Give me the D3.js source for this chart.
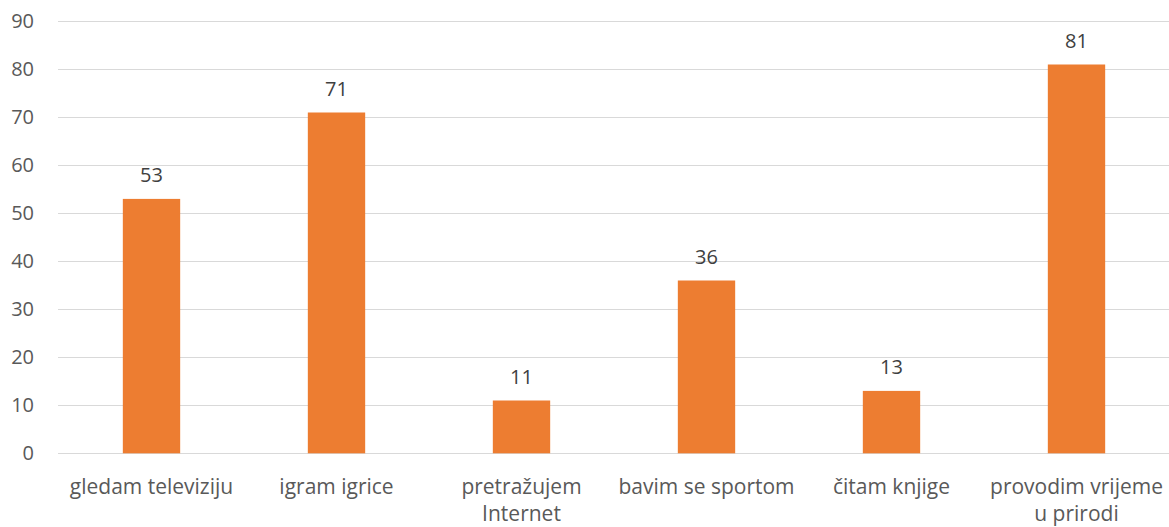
<!DOCTYPE html>
<html>
<head>
<meta charset="utf-8">
<script src="https://cdn.jsdelivr.net/npm/d3@7"></script>
<style>
  body { margin: 0; background: #fff; }
  text { font-family: "Open Sans", "Noto Sans", sans-serif; }
</style>
</head>
<body>
<script>
const categories = [
    ["gledam televiziju"],
    ["igram igrice"],
    ["pretražujem", "Internet"],
    ["bavim se sportom"],
    ["čitam knjige"],
    ["provodim vrijeme", "u prirodi"]
]
const values = [53, 71, 11, 36, 13, 81]
const yTicks = [0, 10, 20, 30, 40, 50, 60, 70, 80, 90]

var width = 1169,
    height = 527;

var svg = d3.select("body")
    .append("svg")
    .attr("width", width)
    .attr("height", height);

// zone du graphique
var plotLeft = 59, plotRight = 1169, plotTop = 21.3, plotBottom = 453.3;

var x = d3.scaleBand()
    .domain(d3.range(categories.length))
    .range([plotLeft, plotRight])
    .paddingInner(0.69)
    .paddingOuter(0.345);

var y = d3.scaleLinear()
    .domain([0, 90])
    .range([plotBottom, plotTop]);

// grille
svg.append("g")
    .selectAll("line")
    .data(yTicks)
    .join("line")
    .attr("x1", plotLeft - 1)
    .attr("x2", plotRight)
    .attr("y1", d => Math.round(y(d)) + 0.5)
    .attr("y2", d => Math.round(y(d)) + 0.5)
    .attr("stroke", "#d9d9d9")
    .attr("stroke-width", 1.2);

// etiquettes axe y
svg.append("g")
    .selectAll("text")
    .data(yTicks)
    .join("text")
    .attr("x", 34)
    .attr("y", d => y(d))
    .attr("dy", "0.35em")
    .attr("text-anchor", "end")
    .attr("font-size", 20)
    .attr("fill", "#595959")
    .text(d => d);

// barres
svg.append("g")
    .selectAll("rect")
    .data(values)
    .join("rect")
    .attr("x", (d, i) => x(i))
    .attr("width", x.bandwidth())
    .attr("y", d => y(d))
    .attr("height", d => y(0) - y(d))
    .attr("fill", "#ed7d31");

// valeurs
svg.append("g")
    .selectAll("text")
    .data(values)
    .join("text")
    .attr("x", (d, i) => x(i) + x.bandwidth() / 2)
    .attr("y", d => y(d) - 24)
    .attr("dy", "0.35em")
    .attr("text-anchor", "middle")
    .attr("font-size", 20)
    .attr("fill", "#404040")
    .text(d => d);

// categories
var cat = svg.append("g")
    .selectAll("text")
    .data(categories)
    .join("text")
    .attr("x", (d, i) => x(i) + x.bandwidth() / 2)
    .attr("y", 487)
    .attr("text-anchor", "middle")
    .attr("font-size", 21)
    .attr("fill", "#595959");

cat.selectAll("tspan")
    .data(d => d)
    .join("tspan")
    .attr("x", function () { return d3.select(this.parentNode).attr("x") })
    .attr("dy", (d, i) => i == 0 ? "0.35em" : 27)
    .text(d => d);
</script>
</body>
</html>
